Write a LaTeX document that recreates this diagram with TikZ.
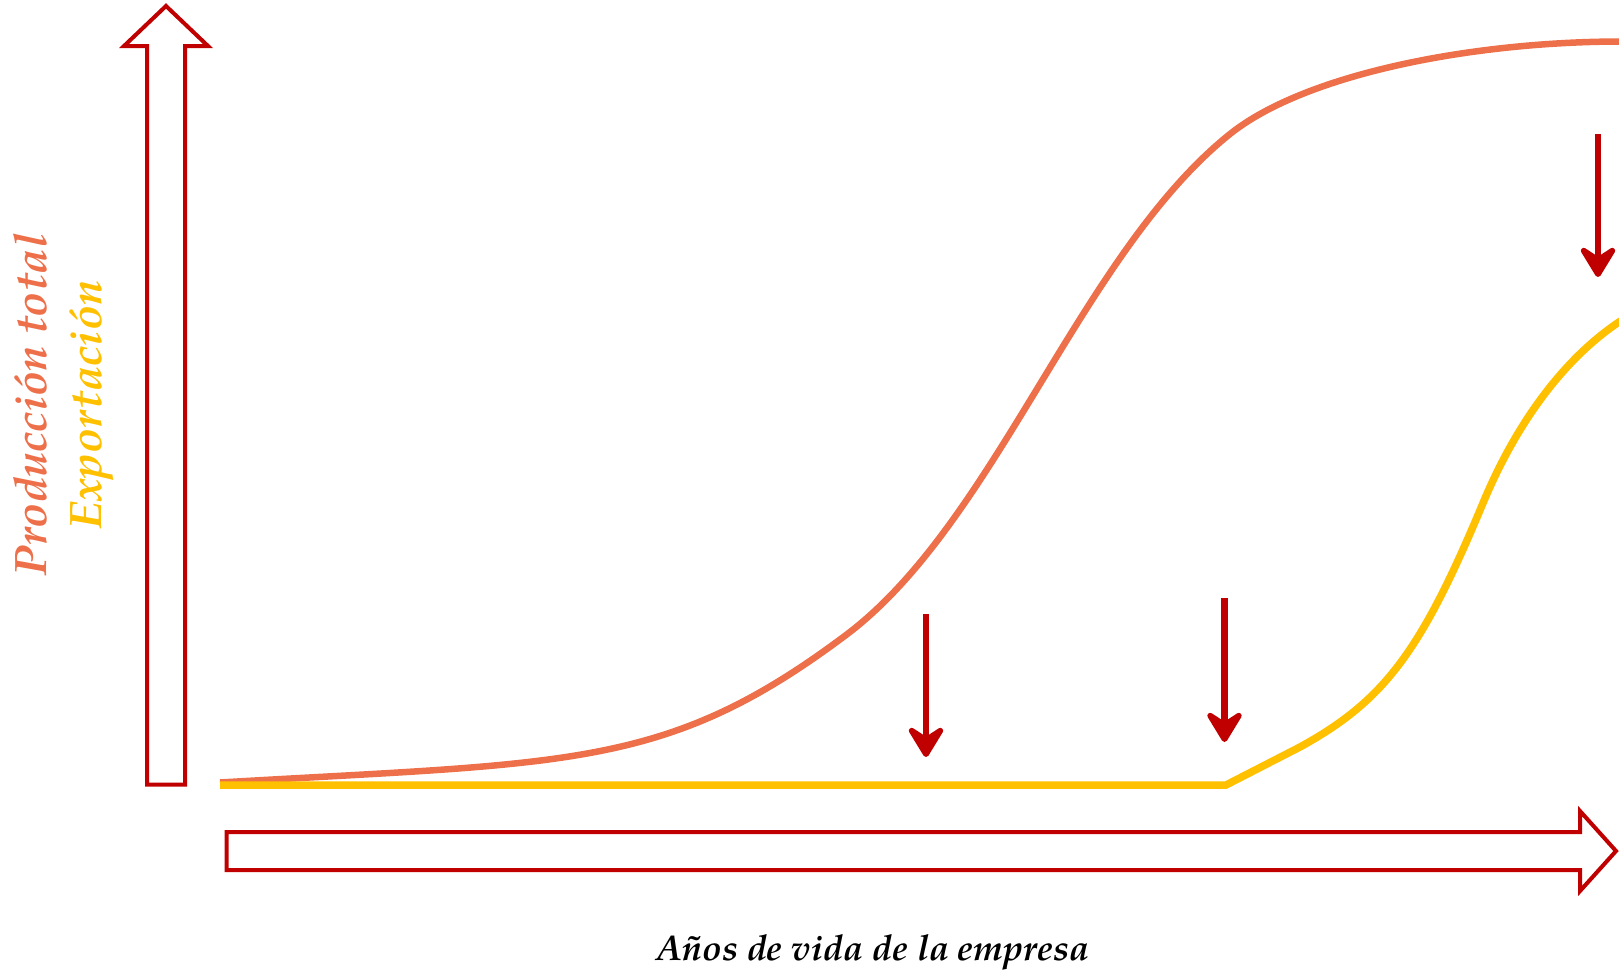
\documentclass[tikz,border=0pt]{standalone}
\usepackage{fontspec}
\setmainfont{TeX Gyre Pagella}
\usetikzlibrary{arrows.meta}
\definecolor{prodc}{RGB}{237,112,74}
\definecolor{expoc}{RGB}{255,192,0}
\definecolor{darkred}{RGB}{192,0,0}
\tikzset{
  blockarrow/.style={draw=darkred, fill=white, line width=4pt, line join=miter},
  prodline/.style={draw=prodc, line width=6.5pt},
  expoline/.style={draw=expoc, line width=7.5pt},
  marker/.style={draw=darkred, line width=6.7pt, -{Stealth[length=38pt, width=46pt, inset=15pt, round]}},
  lbl/.style={inner sep=0pt}
}
\begin{document}
\begin{tikzpicture}[x=1pt, y=-1pt]
\useasboundingbox (0,0) rectangle (1619,975);
% vertical block arrow
\draw[blockarrow] (147,784.5) -- (147,46) -- (124,46) -- (166,6) -- (208,46) -- (185,46) -- (185,784.5) -- cycle;
% horizontal block arrow
\draw[blockarrow] (226.5,832) -- (1580,832) -- (1580,811) -- (1616,851) -- (1580,891) -- (1580,870) -- (226.5,870) -- cycle;
% production curve
\draw[prodline] (220,782.5) .. controls (570,762) and (666,770) .. (846,635)
  .. controls (996,522.5) and (1080,254) .. (1230,134)
  .. controls (1305,74) and (1472,41.5) .. (1622,41.5);
% export curve
\draw[expoline] (220,785) -- (1226,785) -- (1300,747)
  .. controls (1384.4,700.6) and (1421,651.8) .. (1483,503)
  .. controls (1517.4,420.5) and (1566,356.4) .. (1622,320);
% markers
\coordinate (m1s) at (926,614);  \coordinate (m1e) at (926,757);
\coordinate (m2s) at (1224.5,598); \coordinate (m2e) at (1224.5,742);
\coordinate (m3s) at (1598,134); \coordinate (m3e) at (1598,277);
\draw[marker] (m1s) -- (m1e);
\draw[marker] (m2s) -- (m2e);
\draw[marker] (m3s) -- (m3e);
% labels
\node[lbl, rotate=90, align=center, font=\bfseries\itshape\fontsize{45.5}{55}\selectfont] (ylabel) at (64,405)
  {\textcolor{prodc}{Producción total}\\\textcolor{expoc}{Exportación}};
\node[lbl, anchor=base, font=\bfseries\itshape\fontsize{35.8}{40}\selectfont] (xlabel) at (873,960) {Años de vida de la empresa};
\end{tikzpicture}
\end{document}
